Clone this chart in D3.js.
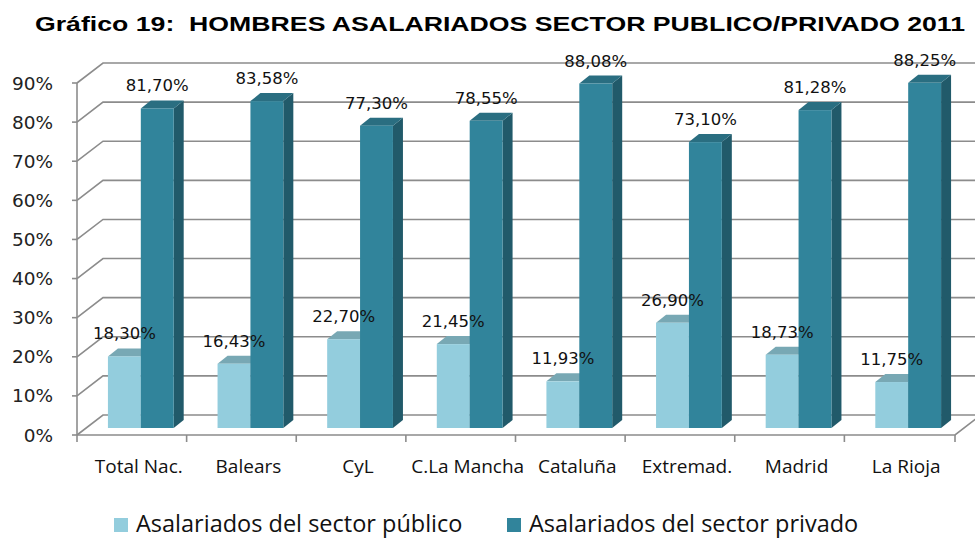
<!DOCTYPE html>
<html>
<head>
<meta charset="utf-8">
<script src="https://cdn.jsdelivr.net/npm/d3@7"></script>
<style>
  body { margin: 0; background: #fff; }
  svg { display: block; }
</style>
</head>
<body>
<div id="chart"></div>
<script>
// values
const categories = ['Total Nac.', 'Balears', 'CyL', 'C.La Mancha', 'Cataluña', 'Extremad.', 'Madrid', 'La Rioja'];
const publico = [18.30, 16.43, 22.70, 21.45, 11.93, 26.90, 18.73, 11.75];
const privado = [81.70, 83.58, 77.30, 78.55, 88.08, 73.10, 81.28, 88.25];
const yTicks = [0, 10, 20, 30, 40, 50, 60, 70, 80, 90];
const seriesNames = ['Asalariados del sector público', 'Asalariados del sector privado'];

const width = 975, height = 538;
const margin = {left: 77, right: 21, top: 83, bottom: 103};
const depth = {dx: 26, dy: -20};       // full depth of the 3d box
const barFront = {dx: 9, dy: -7};      // where the bar front face sits
const barSide = {dx: 10, dy: -8};      // bar thickness in depth
const gridColor = '#8c8c8c';
const colors = {
  publico: {front: '#93cddd', top: '#78a8b4', side: '#6b98a4'},
  privado: {front: '#31849b', top: '#2a6e81', side: '#215a6a'}
};

const svg = d3.select('#chart').append('svg')
  .attr('width', width)
  .attr('height', height);

const x0 = d3.scaleBand()
  .domain(categories)
  .range([margin.left, width - margin.right])
  .paddingInner(0.4)
  .paddingOuter(0.2);

const x1 = d3.scaleBand()
  .domain(['publico', 'privado'])
  .range([0, x0.bandwidth()]);

const y = d3.scaleLinear()
  .domain([0, 90])
  .range([height - margin.bottom, margin.top]);

const fmt = v => d3.format('.2f')(v).replace('.', ',') + '%';

// title (stretched wide like the original)
svg.append('text')
  .attr('x', 35)
  .attr('y', 31)
  .style('white-space', 'pre')
  .attr('font-family', 'Liberation Sans, Arial, sans-serif')
  .attr('font-weight', 'bold')
  .attr('font-size', 21)
  .attr('textLength', 930)
  .attr('lengthAdjust', 'spacingAndGlyphs')
  .attr('fill', '#000')
  .text('Gráfico 19:  HOMBRES ASALARIADOS SECTOR PUBLICO/PRIVADO 2011');

// walls and grid
const grid = svg.append('g')
  .attr('stroke', gridColor)
  .attr('stroke-width', 1.6)
  .attr('fill', 'none');

grid.selectAll('path.grid')
  .data(yTicks)
  .enter()
  .append('path')
  .attr('class', 'grid')
  .attr('d', v => {
    const px = margin.left, py = y(v);
    return `M${px},${py}L${px + depth.dx},${py + depth.dy}L${width},${py + depth.dy}`;
  });

// y axis line and ticks
grid.append('line')
  .attr('x1', margin.left).attr('x2', margin.left)
  .attr('y1', y(90)).attr('y2', y(0));

grid.selectAll('line.ytick')
  .data(yTicks)
  .enter()
  .append('line')
  .attr('class', 'ytick')
  .attr('x1', margin.left - 5).attr('x2', margin.left)
  .attr('y1', v => y(v)).attr('y2', v => y(v));

// floor front edge, right edge and category ticks
const xEnd = width - margin.right + 1;
grid.append('path')
  .attr('d', `M${margin.left},${y(0)}L${xEnd},${y(0)}L${xEnd + depth.dx},${y(0) + depth.dy}`);

const boundaries = categories.map(c => x0(c) - x0.step() * 0.2).concat([xEnd]);
grid.selectAll('line.xtick')
  .data(boundaries)
  .enter()
  .append('line')
  .attr('class', 'xtick')
  .attr('x1', d => d).attr('x2', d => d)
  .attr('y1', y(0)).attr('y2', y(0) + 7);

// y tick labels
svg.append('g')
  .selectAll('text')
  .data(yTicks)
  .enter()
  .append('text')
  .attr('x', 53)
  .attr('y', v => y(v) + 6.5)
  .attr('text-anchor', 'end')
  .attr('font-family', 'DejaVu Sans, sans-serif')
  .attr('font-size', 18.5)
  .attr('fill', '#222')
  .text(v => v + '%');

// bars
const rows = [];
categories.forEach((c, i) => {
  rows.push({cat: c, key: 'publico', value: publico[i]});
  rows.push({cat: c, key: 'privado', value: privado[i]});
});

const bars = svg.append('g')
  .selectAll('g')
  .data(rows)
  .enter()
  .append('g');

function barGeom(d) {
  const xl = x0(d.cat) + x1(d.key) + barFront.dx;
  const xr = xl + x1.bandwidth();
  const yt = y(d.value) + barFront.dy;
  const yb = y(0) + barFront.dy;
  return {xl, xr, yt, yb};
}

bars.append('path')
  .attr('fill', d => colors[d.key].side)
  .attr('d', d => {
    const g = barGeom(d);
    return `M${g.xr},${g.yt}L${g.xr + barSide.dx},${g.yt + barSide.dy}L${g.xr + barSide.dx},${g.yb + barSide.dy}L${g.xr},${g.yb}Z`;
  });

bars.append('path')
  .attr('fill', d => colors[d.key].top)
  .attr('d', d => {
    const g = barGeom(d);
    return `M${g.xl},${g.yt}L${g.xl + barSide.dx},${g.yt + barSide.dy}L${g.xr + barSide.dx},${g.yt + barSide.dy}L${g.xr},${g.yt}Z`;
  });

bars.append('rect')
  .attr('fill', d => colors[d.key].front)
  .attr('x', d => barGeom(d).xl)
  .attr('y', d => barGeom(d).yt)
  .attr('width', x1.bandwidth())
  .attr('height', d => barGeom(d).yb - barGeom(d).yt);

// value labels
svg.append('g')
  .selectAll('text')
  .data(rows)
  .enter()
  .append('text')
  .attr('x', d => (barGeom(d).xl + barGeom(d).xr) / 2)
  .attr('y', d => barGeom(d).yt - 17)
  .attr('text-anchor', 'middle')
  .attr('font-family', 'DejaVu Sans, sans-serif')
  .attr('font-size', 16.5)
  .attr('fill', '#111')
  .text(d => fmt(d.value));

// category labels
svg.append('g')
  .selectAll('text')
  .data(categories)
  .enter()
  .append('text')
  .attr('x', c => x0(c) + x0.bandwidth() / 2 + 7)
  .attr('y', 473)
  .attr('text-anchor', 'middle')
  .attr('font-family', 'Open Sans, sans-serif')
  .attr('font-size', 19)
  .attr('fill', '#111')
  .text(c => c);

// legend
const legendX = [114, 507];
const legend = svg.append('g')
  .selectAll('g')
  .data(seriesNames)
  .enter()
  .append('g')
  .attr('transform', (d, i) => `translate(${legendX[i]},518)`);

legend.append('rect')
  .attr('width', 14)
  .attr('height', 14)
  .attr('fill', (d, i) => i === 0 ? colors.publico.front : colors.privado.front);

legend.append('text')
  .attr('x', 22)
  .attr('y', 14)
  .attr('font-family', 'Open Sans, sans-serif')
  .attr('font-size', 23.5)
  .attr('fill', '#111')
  .text(d => d);
</script>
</body>
</html>
